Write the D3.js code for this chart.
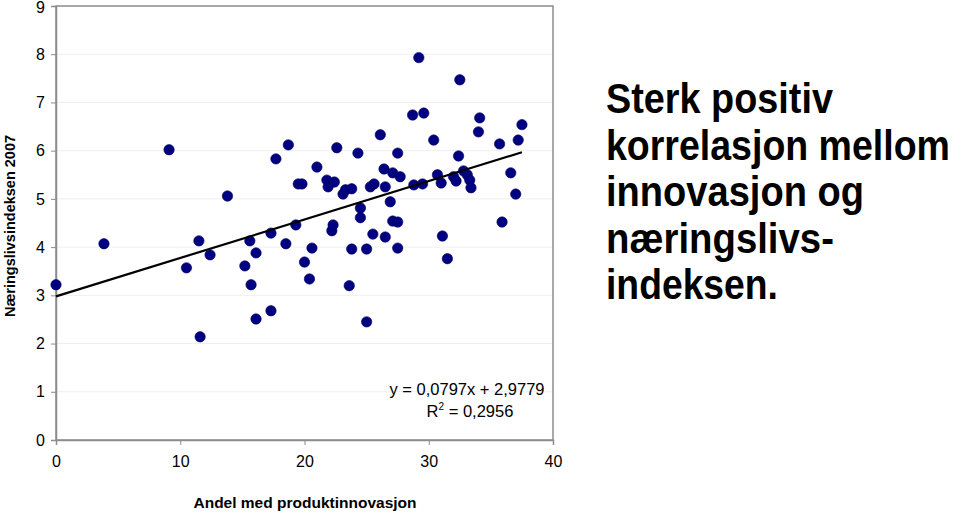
<!DOCTYPE html>
<html><head><meta charset="utf-8">
<script src="https://cdn.jsdelivr.net/npm/d3@7"></script>
<style>body{margin:0;background:#fff;}svg{display:block;font-family:"Liberation Sans",Arial,sans-serif;}</style>
</head><body><svg id="c" width="960" height="512"></svg>
<script>
const xValues = [0,3.86,9.1,10.5,11.5,11.6,12.4,13.8,15.2,15.6,15.7,16.1,16.1,17.3,17.3,17.7,18.5,18.7,19.3,19.5,19.8,20.0,20.4,20.6,21.0,21.8,21.9,22.2,22.4,22.3,22.6,23.1,23.3,23.6,23.8,23.8,24.3,24.5,24.5,25.0,25.0,25.3,25.5,25.6,26.1,26.4,26.5,26.5,26.9,27.1,27.1,27.5,27.5,27.5,27.7,28.7,28.8,29.2,29.5,29.6,30.4,30.7,31.0,31.1,31.5,32.0,32.2,32.4,32.5,32.8,33.1,33.3,33.4,34.0,34.1,35.7,35.9,36.6,37.0,37.2,37.5];
const yValues = [3.22,4.07,6.02,3.57,4.13,2.14,3.84,5.06,3.61,4.13,3.22,3.88,2.51,2.68,4.29,5.83,4.07,6.12,4.46,5.31,5.31,3.69,3.34,3.98,5.66,5.39,5.25,4.34,5.35,4.46,6.06,5.10,5.19,3.20,5.21,3.96,5.95,4.81,4.61,2.45,3.96,5.25,4.27,5.31,6.33,5.62,4.21,5.25,4.94,5.54,4.54,4.52,5.95,3.98,5.46,6.74,5.29,7.93,5.31,6.78,6.22,5.50,5.33,4.23,3.76,5.46,5.37,5.89,7.47,5.58,5.50,5.39,5.23,6.39,6.68,6.14,4.52,5.54,5.10,6.22,6.54];
const xTicks = [0,10,20,30,40];
const yTicks = [0,1,2,3,4,5,6,7,8,9];
const slope = 0.0797, intercept = 2.9779, trendEnd = 37.5;
const equationLabel = "y = 0,0797x + 2,9779";
const r2Value = "0,2956";
const xTitle = "Andel med produktinnovasjon";
const yTitle = "Næringslivsindeksen 2007";
const noteLines = ["Sterk positiv","korrelasjon mellom","innovasjon og","næringslivs-","indeksen."];

const svg = d3.select("#c");
const L=56, R=553, T=6, B=440;
const x = d3.scaleLinear().domain([0,40]).range([L,R]);
const y = d3.scaleLinear().domain([0,9]).range([B,T]);

// gridlines
svg.append("g").selectAll("line").data(yTicks.filter(d=>d>0&&d<9)).join("line")
  .attr("x1",L).attr("x2",R).attr("y1",d=>y(d)).attr("y2",d=>y(d))
  .attr("stroke","#efefef").attr("stroke-width",1);

// border
svg.append("rect").attr("x",L).attr("y",T).attr("width",R-L).attr("height",B-T)
  .attr("fill","none").attr("stroke","#8c8c8c").attr("stroke-width",1.5);

// axes
const yAxis = svg.append("g").attr("transform",`translate(${L},0)`)
  .call(d3.axisLeft(y).tickValues(yTicks).tickSize(5).tickPadding(6).tickFormat(d3.format("d")));
const xAxis = svg.append("g").attr("transform",`translate(0,${B})`)
  .call(d3.axisBottom(x).tickValues(xTicks).tickSize(5).tickPadding(11).tickFormat(d3.format("d")));
[yAxis,xAxis].forEach(g=>{
  g.select(".domain").attr("stroke","#8c8c8c").attr("stroke-width",1.5);
  g.selectAll(".tick line").attr("stroke","#8c8c8c");
  g.selectAll(".tick text").attr("font-size",16).attr("fill","#000").attr("font-family","Liberation Sans, Arial, sans-serif");
});
yAxis.selectAll(".tick text").filter(d=>d===9).attr("dy","0.42em");

// points
svg.append("g").selectAll("circle").data(xValues.map((v,i)=>[v,yValues[i]])).join("circle")
  .attr("cx",d=>x(d[0])).attr("cy",d=>y(d[1])).attr("r",5.2)
  .attr("fill","#000080").attr("stroke","#00005a").attr("stroke-width",0.6);

// trendline
svg.append("line").attr("x1",x(0)).attr("y1",y(intercept))
  .attr("x2",x(trendEnd)).attr("y2",y(intercept+slope*trendEnd))
  .attr("stroke","#000").attr("stroke-width",2.2);

// equation
svg.append("text").attr("x",467).attr("y",395).attr("text-anchor","middle")
  .attr("font-size",16.5).text(equationLabel);
const r2 = svg.append("text").attr("x",470).attr("y",417).attr("text-anchor","middle").attr("font-size",16.5);
r2.append("tspan").text("R");
r2.append("tspan").attr("dy",-7).attr("font-size",10).text("2");
r2.append("tspan").attr("dy",7).text(" = " + r2Value);

// titles
svg.append("text").attr("x",305).attr("y",508).attr("text-anchor","middle")
  .attr("font-size",15.5).attr("font-weight","bold").text(xTitle);
svg.append("text").attr("transform","translate(15,226) rotate(-90)").attr("text-anchor","middle")
  .attr("font-size",14.5).attr("font-weight","bold").text(yTitle);

// note (condensed via horizontal scale)
const widths=[227,344,258,228,172];
svg.append("g").selectAll("text").data(noteLines).join("text")
  .attr("x",0).attr("y",0)
  .attr("font-size",42).attr("font-weight","bold")
  .text(d=>d)
  .each(function(d,i){
    const w = this.getComputedTextLength();
    const sx = widths[i]/w;
    d3.select(this).attr("transform",`translate(606,${113+i*46.5}) scale(${sx},1)`);
  });
</script></body></html>
